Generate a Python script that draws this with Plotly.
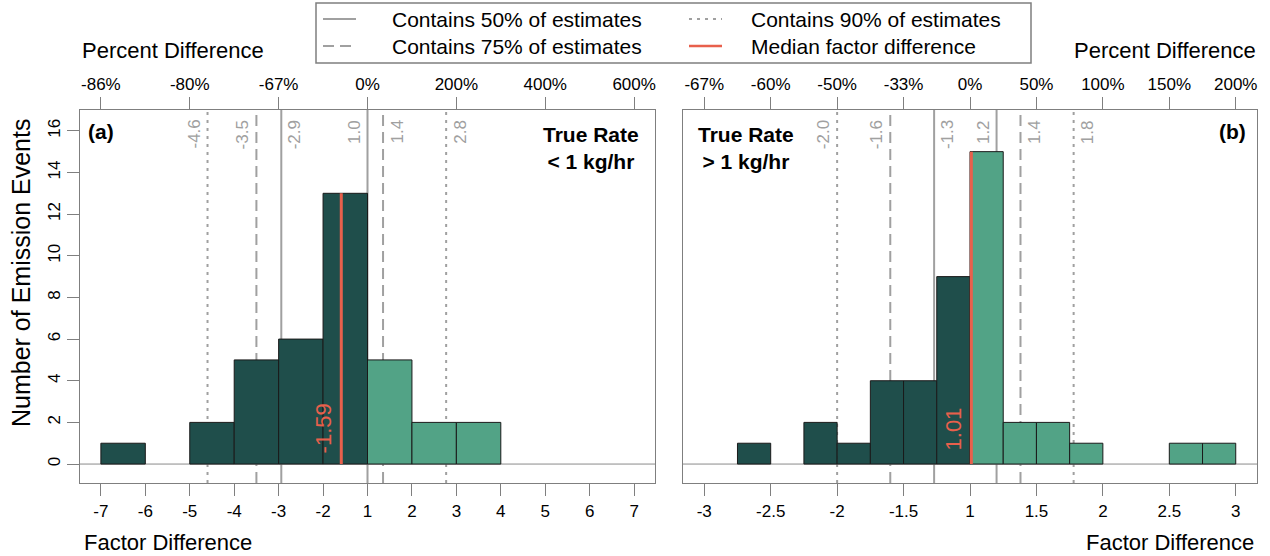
import plotly.graph_objects as go

W, H = 1270, 556

# ---------------- data ----------------
# Panel (a): True rate < 1 kg/hr
a_bin_lo = [-7, -5, -4, -3, -2, 1, 2, 3]
a_bin_hi = [-6, -4, -3, -2, 1, 2, 3, 4]
a_counts = [1, 2, 5, 6, 13, 5, 2, 2]
a_ticks = [-7, -6, -5, -4, -3, -2, 1, 2, 3, 4, 5, 6, 7]
a_top_ticks = [-7, -5, -3, 1, 3, 5, 7]
a_top_labels = ["-86%", "-80%", "-67%", "0%", "200%", "400%", "600%"]
a_lines = [-4.6, -3.5, -2.94, 1.0, 1.35, 2.77]
a_line_labels = ["-4.6", "-3.5", "-2.9", "1.0", "1.4", "2.8"]
a_line_kind = ["dot", "dash", "solid", "solid", "dash", "dot"]
a_median = -1.59
a_median_label = "-1.59"

# Panel (b): True rate > 1 kg/hr
b_bin_lo = [-2.75, -2.25, -2.0, -1.75, -1.5, -1.25, 1.0, 1.25, 1.5, 1.75, 2.5, 2.75]
b_bin_hi = [-2.5, -2.0, -1.75, -1.5, -1.25, 1.0, 1.25, 1.5, 1.75, 2.0, 2.75, 3.0]
b_counts = [1, 2, 1, 4, 4, 9, 15, 2, 2, 1, 1, 1]
b_ticks = [-3, -2.5, -2, -1.5, 1, 1.5, 2, 2.5, 3]
b_top_ticks = [-3, -2.5, -2, -1.5, 1, 1.5, 2, 2.5, 3]
b_top_labels = ["-67%", "-60%", "-50%", "-33%", "0%", "50%", "100%", "150%", "200%"]
b_lines = [-2.0, -1.6, -1.27, 1.2, 1.38, 1.78]
b_line_labels = ["-2.0", "-1.6", "-1.3", "1.2", "1.4", "1.8"]
b_line_kind = ["dot", "dash", "solid", "solid", "dash", "dot"]
b_median = 1.01
b_median_label = "1.01"

y_ticks = [0, 2, 4, 6, 8, 10, 12, 14, 16]

# ---------------- styling ----------------
DARK = "#1F4E4B"
LIGHT = "#52A386"
RED = "#E8604C"
GRAY = "#A0A0A0"
BOX = "#7F7F7F"
FONT = "Liberation Sans, Arial, Helvetica, sans-serif"
DASH = {"solid": "solid", "dash": "11px,6px", "dot": "3px,5px"}


def to_u(f):
    """Factor difference -> plotting position (the -1..1 gap is collapsed)."""
    return f + 1 if f < 0 else f - 1


def px(x):
    return x / W


def py(y):
    return 1 - y / H


fig = go.Figure()
shapes = []
annotations = []

panels = [
    dict(lo=a_bin_lo, hi=a_bin_hi, cnt=a_counts, ticks=a_ticks, top_ticks=a_top_ticks,
         top_labels=a_top_labels, lines=a_lines, line_labels=a_line_labels, kinds=a_line_kind,
         med=a_median, med_label=a_median_label, xa="x", ya="y", xt="x3", rng=[-6.47, 6.47]),
    dict(lo=b_bin_lo, hi=b_bin_hi, cnt=b_counts, ticks=b_ticks, top_ticks=b_top_ticks,
         top_labels=b_top_labels, lines=b_lines, line_labels=b_line_labels, kinds=b_line_kind,
         med=b_median, med_label=b_median_label, xa="x2", ya="y2", xt="x4", rng=[-2.16, 2.16]),
]

for p in panels:
    lo_u = [to_u(v) for v in p["lo"]]
    hi_u = [to_u(v) for v in p["hi"]]
    centers = [(a + b) / 2 for a, b in zip(lo_u, hi_u)]
    widths = [b - a for a, b in zip(lo_u, hi_u)]
    colors = [DARK if lo < 0 else LIGHT for lo in p["lo"]]
    fig.add_trace(go.Bar(x=centers, y=p["cnt"], width=widths, base=0,
                         marker=dict(color=colors, line=dict(color="#1a1a1a", width=1)),
                         xaxis=p["xa"], yaxis=p["ya"], showlegend=False, hoverinfo="skip"))
    # median line
    mu = to_u(p["med"])
    fig.add_trace(go.Scatter(x=[mu, mu], y=[0, max(p["cnt"])], mode="lines",
                             line=dict(color=RED, width=3), xaxis=p["xa"], yaxis=p["ya"],
                             showlegend=False, hoverinfo="skip"))
    # invisible trace so the top axis is drawn
    fig.add_trace(go.Scatter(x=[0], y=[-50], mode="markers", marker=dict(opacity=0),
                             xaxis=p["xt"], yaxis=p["ya"], showlegend=False, hoverinfo="skip"))
    # zero line
    shapes.append(dict(type="line", xref=p["xa"] + " domain", yref=p["ya"], x0=0, x1=1,
                       y0=0, y1=0, line=dict(color="#8a8a8a", width=1), layer="below"))
    # interval lines + labels
    for v, lab, k in zip(p["lines"], p["line_labels"], p["kinds"]):
        u = to_u(v)
        shapes.append(dict(type="line", xref=p["xa"], yref=p["ya"] + " domain", x0=u, x1=u,
                           y0=0, y1=1, line=dict(color=GRAY, width=2, dash=DASH[k]),
                           layer="below"))
        outside = k != "solid"
        left = (v < 0) == outside
        annotations.append(dict(text=lab, x=u, xref=p["xa"], y=py(118), yref="paper",
                                xanchor="right" if left else "left", yanchor="top",
                                xshift=-2 if left else 2, textangle=-90, showarrow=False,
                                font=dict(family=FONT, size=17, color=GRAY)))
    annotations.append(dict(text=p["med_label"], x=mu, xref=p["xa"], y=1.7, yref=p["ya"],
                            xanchor="right", yanchor="middle", xshift=-3, textangle=-90,
                            showarrow=False, font=dict(family=FONT, size=22, color=RED)))

axis_common = dict(showgrid=False, zeroline=False, ticks="outside", ticklen=12,
                   tickcolor=BOX, tickwidth=1,
                   tickfont=dict(family=FONT, size=17, color="black"))

fig.update_layout(
    width=W, height=H, margin=dict(l=0, r=0, t=0, b=0),
    paper_bgcolor="white", plot_bgcolor="white", showlegend=False,
    xaxis=dict(domain=[px(80), px(655)], range=panels[0]["rng"], anchor="y",
               tickvals=[to_u(v) for v in a_ticks], ticktext=[f"{v:g}" for v in a_ticks],
               showline=True, mirror=True, linecolor=BOX, linewidth=1.2, **axis_common),
    xaxis3=dict(overlaying="x", side="top", anchor="y", range=panels[0]["rng"],
                tickvals=[to_u(v) for v in a_top_ticks], ticktext=a_top_labels,
                showline=False, **axis_common),
    xaxis2=dict(domain=[px(683), px(1257)], range=panels[1]["rng"], anchor="y2",
                tickvals=[to_u(v) for v in b_ticks], ticktext=[f"{v:g}" for v in b_ticks],
                showline=True, mirror=True, linecolor=BOX, linewidth=1.2, **axis_common),
    xaxis4=dict(overlaying="x2", side="top", anchor="y2", range=panels[1]["rng"],
                tickvals=[to_u(v) for v in b_top_ticks], ticktext=b_top_labels,
                showline=False, **axis_common),
    yaxis=dict(domain=[py(483), py(110)], range=[-0.91, 17.0], anchor="x",
               tickvals=y_ticks, tickangle=-90, showline=True, mirror=True,
               linecolor=BOX, linewidth=1.2, **axis_common),
    yaxis2=dict(domain=[py(483), py(110)], range=[-0.91, 17.0], anchor="x2",
                showticklabels=False, showline=True, mirror=True, linecolor=BOX,
                linewidth=1.2, showgrid=False, zeroline=False, ticks=""),
)

# axis titles
title_font = dict(family=FONT, size=22, color="black")
annotations += [
    dict(text="Percent Difference", x=px(80), y=py(51), xref="paper", yref="paper",
         xanchor="left", yanchor="middle", showarrow=False, font=title_font),
    dict(text="Percent Difference", x=px(1258), y=py(51), xref="paper", yref="paper",
         xanchor="right", yanchor="middle", showarrow=False, font=title_font),
    dict(text="Factor Difference", x=px(82), y=py(542), xref="paper", yref="paper",
         xanchor="left", yanchor="middle", showarrow=False, font=title_font),
    dict(text="Factor Difference", x=px(1256), y=py(542), xref="paper", yref="paper",
         xanchor="right", yanchor="middle", showarrow=False, font=title_font),
    dict(text="Number of Emission Events", x=px(21), y=py(273), xref="paper", yref="paper",
         xanchor="center", yanchor="middle", textangle=-90, showarrow=False,
         font=dict(family=FONT, size=25, color="black")),
]

# panel labels
bold = dict(family=FONT, size=21, color="black")
annotations += [
    dict(text="<b>(a)</b>", x=px(86), y=py(132), xref="paper", yref="paper",
         xanchor="left", yanchor="middle", showarrow=False, font=bold),
    dict(text="<b>True Rate</b><br><b>&lt; 1 kg/hr</b>", x=px(591), y=py(148), xref="paper",
         yref="paper", xanchor="center", yanchor="middle", align="center", showarrow=False,
         font=bold),
    dict(text="<b>True Rate</b><br><b>&gt; 1 kg/hr</b>", x=px(746), y=py(148), xref="paper",
         yref="paper", xanchor="center", yanchor="middle", align="center", showarrow=False,
         font=bold),
    dict(text="<b>(b)</b>", x=px(1248), y=py(132), xref="paper", yref="paper",
         xanchor="right", yanchor="middle", showarrow=False, font=bold),
]

# legend (drawn manually)
legend_items = [
    ("Contains 50% of estimates", GRAY, "solid", 323, 356, 390, 19),
    ("Contains 75% of estimates", GRAY, "dash", 323, 356, 390, 46),
    ("Contains 90% of estimates", GRAY, "dot", 689, 722, 749, 19),
    ("Median factor difference", RED, "solid", 689, 722, 749, 46),
]
shapes.append(dict(type="rect", xref="paper", yref="paper", x0=px(316), x1=px(1031),
                   y0=py(63), y1=py(3), line=dict(color=BOX, width=1.5)))
for text, col, k, x0, x1, tx, yy in legend_items:
    shapes.append(dict(type="line", xref="paper", yref="paper", x0=px(x0), x1=px(x1),
                       y0=py(yy), y1=py(yy),
                       line=dict(color=col, width=2.5 if col == RED else 2, dash=DASH[k])))
    annotations.append(dict(text=text, x=px(tx), y=py(yy), xref="paper", yref="paper",
                            xanchor="left", yanchor="middle", showarrow=False,
                            font=dict(family=FONT, size=21, color="black")))

fig.update_layout(shapes=shapes, annotations=annotations)
fig.write_html("out.html", config={"displayModeBar": False},
               post_script="document.body.style.margin='0';document.body.style.padding='0';")
